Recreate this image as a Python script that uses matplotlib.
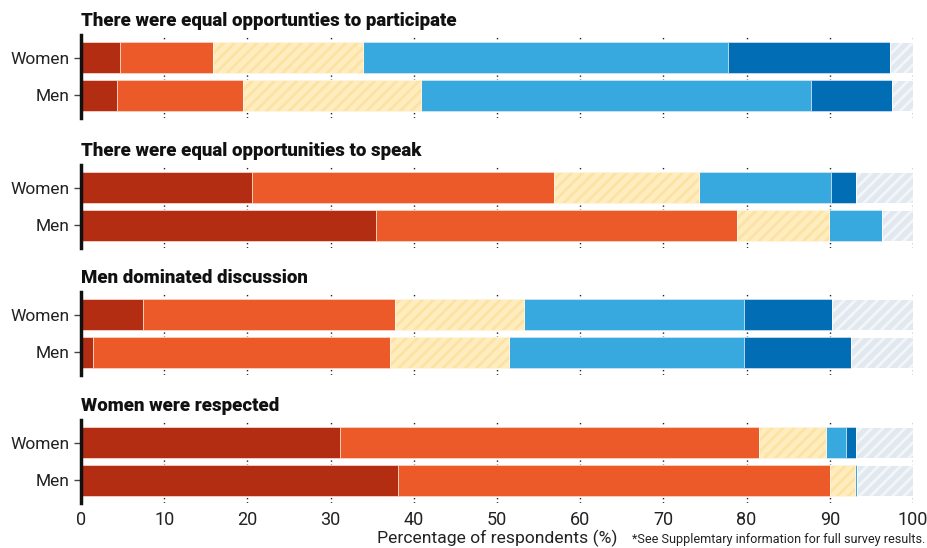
import matplotlib
matplotlib.use("Agg")
import matplotlib.pyplot as plt
import numpy as np

plt.rcParams['font.family'] = ['Roboto', 'DejaVu Sans']
plt.rcParams['hatch.linewidth'] = 2.0

titles = [
    "There were equal opportunties to participate",
    "There were equal opportunities to speak",
    "Men dominated discussion",
    "Women were respected",
]
groups = ["Women", "Men"]
categories = ["Strongly disagree", "Disagree", "Neutral", "Agree", "Strongly agree", "Other*"]

# values[panel][group] -> list over categories (%)
strongly_disagree = [[4.7, 4.3], [20.5, 35.5], [7.4, 1.5], [31.1, 38.1]]
disagree          = [[11.2, 15.2], [36.3, 43.4], [30.3, 35.6], [50.4, 51.9]]
neutral           = [[18.0, 21.4], [17.5, 11.0], [15.5, 14.4], [8.0, 3.0]]
agree             = [[43.9, 46.8], [15.8, 6.4], [26.5, 28.2], [2.5, 0.3]]
strongly_agree    = [[19.4, 9.8], [3.0, 0.0], [10.6, 12.8], [1.1, 0.0]]
other             = [[2.8, 2.5], [6.9, 3.7], [9.7, 7.5], [6.9, 6.7]]

series = [strongly_disagree, disagree, neutral, agree, strongly_agree, other]
colors = ["#B32D12", "#EB5A28", "#FFEDBF", "#38A9DF", "#006DB4", "#E2E8EF"]
hatch_colors = [None, None, "#FCE2A3", None, None, "#F3F6F9"]
edge_colors = ["#F3C9BE", "#F8CDB8", "#FFF4DD", "#C4E3F4", "#B9D6EC", "#FFFFFF"]

xticks = [0, 10, 20, 30, 40, 50, 60, 70, 80, 90, 100]

fig = plt.figure(figsize=(9.27, 5.48), dpi=100)
W, H = 927, 548
left = 81 / W
width = 832 / W
tops = [35, 165, 292, 420]
ax_h = 83

for p in range(4):
    bottom = 1 - (tops[p] + ax_h) / H
    ax = fig.add_axes([left, bottom, width, ax_h / H])
    ypos = np.arange(len(groups))
    lefts = np.zeros(len(groups))
    for s in range(len(series)):
        vals = np.array(series[s][p])
        if hatch_colors[s] is not None:
            ax.barh(ypos, vals, left=lefts, height=0.82, color=colors[s],
                    hatch="///", edgecolor=hatch_colors[s], linewidth=0, zorder=2)
            ax.barh(ypos, vals, left=lefts, height=0.82, fill=False,
                    edgecolor=edge_colors[s], linewidth=0.7, zorder=3)
        else:
            ax.barh(ypos, vals, left=lefts, height=0.82, color=colors[s],
                    edgecolor=edge_colors[s], linewidth=0.7, zorder=2)
        lefts = lefts + vals
    ax.set_xlim(0, 100)
    ax.set_ylim(1.6, -0.6)
    ax.set_yticks(ypos)
    ax.set_yticklabels(groups, fontsize=12.5, color="#222222")
    ax.tick_params(axis='y', length=5, width=1, color="#444444", pad=3)
    ax.set_xticks(xticks)
    ax.grid(axis='x', linestyle=(0, (1, 2)), color="#222222", linewidth=1, zorder=0)
    ax.set_axisbelow(True)
    for side in ['top', 'right', 'bottom']:
        ax.spines[side].set_visible(False)
    ax.spines['left'].set_linewidth(2.5)
    ax.spines['left'].set_color("#111111")
    ax.annotate(titles[p], xy=(0, 1), xycoords='axes fraction',
                xytext=(0, 3.5), textcoords='offset points', ha='left', va='bottom',
                fontsize=13.4, fontweight='black', family=['Roboto', 'DejaVu Sans'],
                color="#111111")
    if p == 3:
        ax.tick_params(axis='x', length=0, labelsize=13, pad=6, labelcolor="#222222")
    else:
        ax.tick_params(axis='x', length=0, labelbottom=False)

fig.text(497 / W, 1 - 538 / H, "Percentage of respondents (%)", ha='center', va='center',
         fontsize=12.6, color="#222222")
fig.text(925 / W, 1 - 540 / H, "*See Supplemtary information for full survey results.",
         ha='right', va='center', fontsize=9.1, color="#222222")

fig.savefig("out.png", dpi=100)
